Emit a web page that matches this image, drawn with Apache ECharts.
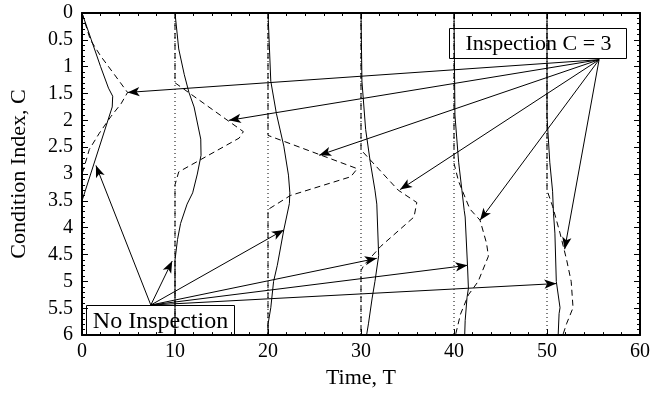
<!DOCTYPE html>
<html><head><meta charset="utf-8">
<script src="https://cdn.jsdelivr.net/npm/echarts@6/dist/echarts.min.js"></script>
<style>html,body{margin:0;padding:0;background:#fff}#c{width:663px;height:394px}</style>
</head><body><div id="c"></div>
<script>
// Inspection times (baselines)
const times = [0, 10, 20, 30, 40, 50];
// Solid curves: No Inspection, points as [T, C]
const noInsp0  = [[0,0],[1.0,0.5],[2.0,1.0],[2.85,1.4],[3.3,1.55],[3.25,1.75],[0,3.5],[0,6]];
const noInsp10 = [[10,0],[10.4,0.67],[11.0,1.15],[11.5,1.48],[12.05,1.75],[12.77,2.35],[12.8,2.65],[12.4,3.0],[11.9,3.35],[11.3,3.56],[10.6,3.92],[10.27,4.22],[10,4.6],[10,6]];
const noInsp20 = [[20,0],[20.3,1.27],[20.9,1.87],[21.7,2.48],[22.2,3.02],[22.35,3.35],[22.3,3.55],[21.7,4.04],[21.0,4.7],[20.6,5.0],[20.3,5.49],[20,5.8],[20,6]];
const noInsp30 = [[30,0],[30.1,1.27],[30.5,2.17],[31.0,2.78],[31.5,3.3],[31.7,3.56],[31.9,4.52],[31.5,5.0],[31.2,5.31],[30.8,5.79],[30.6,6]];
const noInsp40 = [[40,0],[40.1,1.9],[40.5,2.78],[40.85,3.3],[41.1,3.68],[41.2,3.8],[41.45,4.7],[41.55,5.13],[41.4,5.3],[41.2,5.73],[41.15,6]];
const noInsp50 = [[50,0],[50.0,1.93],[50.3,2.78],[50.6,3.32],[50.7,3.74],[50.85,4.1],[51.0,5.0],[51.4,5.49],[51.3,5.6],[51.2,6]];
// Dashed curves: Inspection C = 3
const insp0  = [[0,0],[0.9,0.5],[2.0,0.8],[3.5,1.15],[4.9,1.48],[4.2,1.69],[3.1,1.93],[1.86,2.24],[0.79,2.54],[0.18,2.9],[0,3.0],[0,6]];
const insp10 = [[10,0],[10,1.3],[17.35,2.21],[16.9,2.33],[10.4,2.96],[10,3.2],[10,6]];
const insp20 = [[20,0],[20,2.28],[29.6,2.9],[28.9,3.05],[22.4,3.4],[20.1,3.65],[20,3.7],[20,6]];
const insp30 = [[30,0],[30,2.55],[34.0,3.3],[36.0,3.53],[35.7,3.8],[32.1,4.35],[30.3,4.7],[30,4.8],[30,6]];
const insp40 = [[40,0],[40,2.8],[40.5,3.14],[41.7,3.65],[42.8,3.86],[43.5,4.29],[43.7,4.53],[42.6,5.0],[41.55,5.25],[40.7,5.61],[40.2,5.97],[40.2,6]];
const insp50 = [[50,0],[50,3.3],[50.6,3.6],[51.4,4.1],[52.1,4.59],[52.6,5.0],[52.8,5.49],[52.1,5.79],[51.7,6]];
// Annotations (data coordinates)
const inspLabel = 'Inspection C = 3';
const noInspLabel = 'No Inspection';
const inspOrigin = [55.6, 0.87];
const inspTargets = [[4.9,1.48],[15.8,2.0],[25.5,2.65],[34.2,3.29],[42.8,3.86],[51.9,4.4]];
const noInspOrigin = [7.4, 5.44];
const noInspTargets = [[1.5,2.84],[9.7,4.62],[21.7,4.04],[31.7,4.57],[41.45,4.7],[51.0,5.04]];
const inspBoxAt = [49.0, 0.566];
const noInspBoxAt = [8.37, 5.71];

const FONT = 'Liberation Serif';
const solids = [noInsp0, noInsp10, noInsp20, noInsp30, noInsp40, noInsp50];
const dashes = [insp0, insp10, insp20, insp30, insp40, insp50];

function axisCommon() {
  return {
    axisLine: { show: true, onZero: false, lineStyle: { color: '#000', width: 2 } },
    axisTick: { show: true, inside: true, length: 6, lineStyle: { color: '#000', width: 1 } },
    minorTick: { show: true, splitNumber: 5, length: 3, lineStyle: { color: '#000', width: 1 } },
    splitLine: { show: false },
    minorSplitLine: { show: false }
  };
}

const series = [];
times.forEach(t => {
  series.push({ type: 'line', data: [[t,0],[t,6]], symbol: 'none', silent: true,
    lineStyle: { color: '#000', width: 1, type: [1,3] }, z: 2 });
});
solids.forEach(d => series.push({ type: 'line', data: d, symbol: 'none', silent: true,
  lineStyle: { color: '#000', width: 1 }, z: 3 }));
dashes.forEach(d => series.push({ type: 'line', data: d, symbol: 'none', silent: true,
  lineStyle: { color: '#000', width: 1, type: [6,4] }, z: 3 }));

const arrowLines = [];
inspTargets.forEach(p => arrowLines.push([{ coord: inspOrigin }, { coord: p }]));
noInspTargets.forEach(p => arrowLines.push([{ coord: noInspOrigin }, { coord: p }]));
series.push({ type: 'line', data: [], symbol: 'none', silent: true, z: 4, color: '#000',
  markLine: { silent: true, animation: false, symbol: ['none', 'arrow'], symbolSize: [7, 12],
    label: { show: false }, emphasis: { disabled: true },
    itemStyle: { color: '#000' },
    lineStyle: { color: '#000', width: 1, type: 'solid' }, data: arrowLines } });

const chart = echarts.init(document.getElementById('c'));
chart.setOption({
  animation: false,
  backgroundColor: '#fff',
  grid: { left: 81, right: 23, top: 13, bottom: 49, containLabel: false },
  xAxis: [
    Object.assign({ type: 'value', min: 0, max: 60, interval: 10, position: 'bottom',
      name: 'Time, T', nameLocation: 'middle', nameGap: 23,
      nameTextStyle: { fontFamily: FONT, fontSize: 22, color: '#000' },
      axisLabel: { fontFamily: FONT, fontSize: 20, color: '#000', margin: 7 } }, axisCommon()),
    Object.assign({ type: 'value', min: 0, max: 60, interval: 10, position: 'top',
      axisLabel: { show: false } }, axisCommon())
  ],
  yAxis: [
    Object.assign({ type: 'value', min: 0, max: 6, interval: 0.5, inverse: true, position: 'left',
      name: 'Condition Index, C', nameLocation: 'middle', nameGap: 52,
      nameTextStyle: { fontFamily: FONT, fontSize: 22, color: '#000' },
      axisLabel: { fontFamily: FONT, fontSize: 20, color: '#000', margin: 9 } }, axisCommon()),
    Object.assign({ type: 'value', min: 0, max: 6, interval: 0.5, inverse: true, position: 'right',
      axisLabel: { show: false } }, axisCommon())
  ],
  series: series
});

function box(at, text, w, h, fs) {
  const p = chart.convertToPixel({ xAxisIndex: 0, yAxisIndex: 0 }, at);
  const cx = Math.round(p[0]) + 0.5, cy = Math.round(p[1]) + 0.5;
  return { type: 'group', x: cx, y: cy, z: 100, silent: true, children: [
    { type: 'rect', shape: { x: -Math.round(w / 2), y: -Math.round(h / 2), width: w, height: h },
      style: { fill: '#fff', stroke: '#000', lineWidth: 1 } },
    { type: 'text', x: 0, y: 1, style: { text: text, align: 'center', verticalAlign: 'middle',
      font: fs + 'px "' + FONT + '"', fill: '#000' } }
  ] };
}
chart.setOption({ graphic: [
  box(inspBoxAt, inspLabel, 177, 30, 22),
  box(noInspBoxAt, noInspLabel, 148, 30, 24)
] });
</script>
</body></html>
